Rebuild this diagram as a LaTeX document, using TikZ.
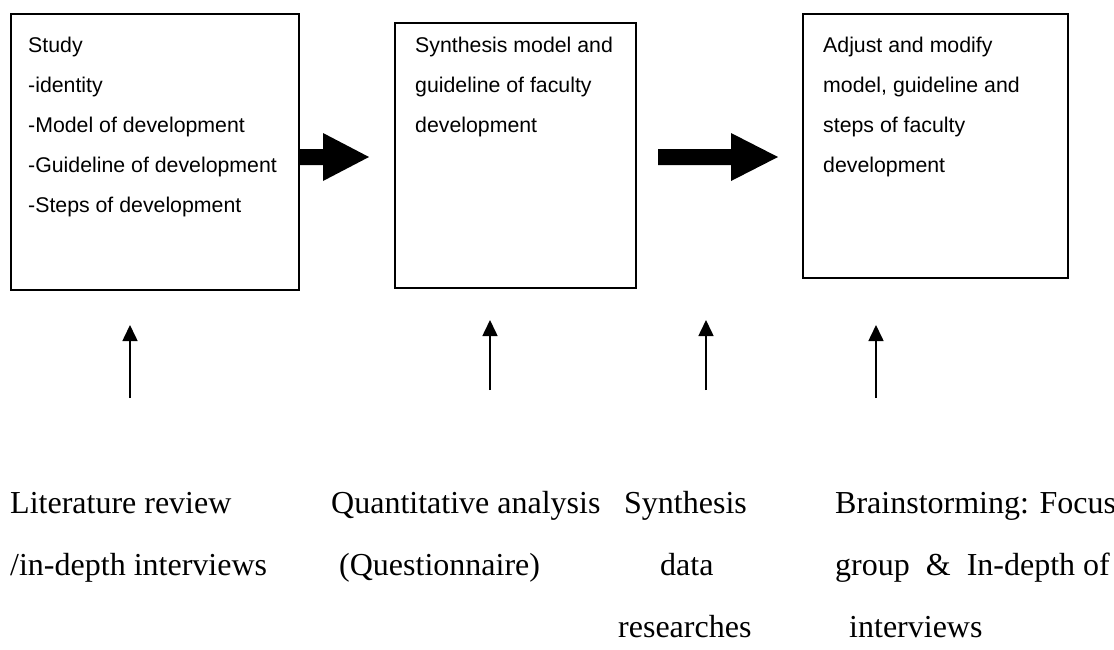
\documentclass[tikz,border=0pt]{standalone}
\usepackage{fontspec}
\setmainfont{Liberation Serif}
\newfontfamily\boxfont{Liberation Sans}
\usetikzlibrary{arrows.meta,calc}

\begin{document}
\begin{tikzpicture}[x=1pt,y=-1pt,
  stage/.style={draw=black,line width=2pt,inner sep=0pt,anchor=north west},
  boxline/.style={font=\boxfont\fontsize{21.3pt}{25pt}\selectfont,anchor=base west,inner sep=0pt},
  srcline/.style={font=\fontsize{32pt}{38pt}\selectfont,anchor=base west,inner sep=0pt},
  feed/.style={line width=1.6pt,-{Triangle[length=16pt,width=15pt]}},
  bigarrow/.style={fill=black}]
\useasboundingbox (0,0) rectangle (1114,649);

% the three stages
\node[stage,minimum width=288pt,minimum height=276pt] (b1) at (10,13) {};
\node[stage,minimum width=241pt,minimum height=265pt] (b2) at (394,22) {};
\node[stage,minimum width=265pt,minimum height=264pt] (b3) at (802,13) {};

% stage texts
\foreach \t [count=\i] in {Study,-identity,-Model of development,-Guideline of development,-Steps of development}
  \node[boxline] (b1l\i) at (28,{12+40*\i}) {\t};
\foreach \t [count=\i] in {Synthesis model and,guideline of faculty,development}
  \node[boxline] (b2l\i) at (415,{12+40*\i}) {\t};
\foreach \t [count=\i] in {Adjust and modify,{model, guideline and},steps of faculty,development}
  \node[boxline] (b3l\i) at (823,{12+40*\i}) {\t};

% block arrows between the stages
\fill[bigarrow] (298,149) -- (323,149) -- (323,133) -- (369,157) -- (323,181) -- (323,165) -- (298,165) -- cycle;
\fill[bigarrow] (658,149) -- (731,149) -- (731,133) -- (778,157) -- (731,181) -- (731,165) -- (658,165) -- cycle;

% sources feeding the stages
\coordinate (s1) at (130,398); \coordinate (e1) at (130,325);
\coordinate (s2) at (490,390); \coordinate (e2) at (490,320);
\coordinate (s3) at (706,390); \coordinate (e3) at (706,320);
\coordinate (s4) at (876,398); \coordinate (e4) at (876,325);
\foreach \k in {1,...,4} \draw[feed] (s\k) -- (e\k);

\node[srcline] (m1a) at (10,513) {Literature review};
\node[srcline] (m1b) at (10,575) {/in-depth interviews};
\node[srcline] (m2a) at (331,513) {Quantitative analysis};
\node[srcline] (m2b) at (339,575) {(Questionnaire)};
\node[srcline] (m3a) at (624,513) {Synthesis};
\node[srcline] (m3b) at (660,575) {data};
\node[srcline] (m3c) at (618,637) {researches};
\node[srcline] (m4a) at (835,513) {Brainstorming: Focus};
\node[srcline] (m4b) at (835,575) {group~~\&~~In-depth of};
\node[srcline] (m4c) at (849,637) {interviews};
\end{tikzpicture}
\end{document}
